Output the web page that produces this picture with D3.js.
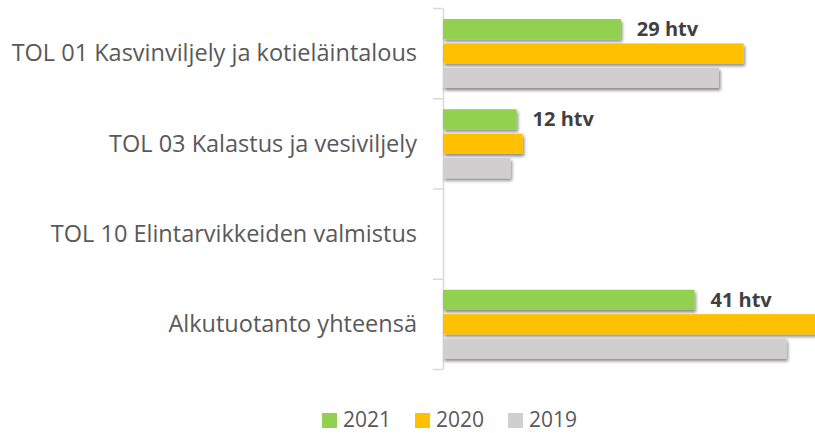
<html>
<head>
<meta charset="utf-8">
<style>
  body { margin: 0; background: #fff; }
  svg { display: block; }
</style>
</head>
<body>
<svg id="chart" width="815" height="433"></svg>
<script src="https://d3js.org/d3.v7.min.js"></script>
<script>
// data
var categories = ["TOL 01 Kasvinviljely ja kotieläintalous", "TOL 03 Kalastus ja vesiviljely",
                  "TOL 10 Elintarvikkeiden valmistus", "Alkutuotanto yhteensä"];
var seriesNames = ["2021", "2020", "2019"];
var values2021 = [29, 12, 0, 41];
var values2020 = [49, 13, 0, 62];
var values2019 = [45, 11, 0, 56];
var labels2021 = ["29 htv", "12 htv", "", "41 htv"];
var colors = ["#92D050", "#FFC000", "#D0CECE"];

var allValues = [values2021, values2020, values2019];

var svg = d3.select("#chart");

// shadow under bars
var defs = svg.append("defs");
defs.append("filter")
    .attr("id", "shadow")
    .attr("x", "-5%").attr("y", "-30%")
    .attr("width", "115%").attr("height", "190%")
  .append("feDropShadow")
    .attr("dx", 1.5).attr("dy", 2.5)
    .attr("stdDeviation", 1.5)
    .attr("flood-color", "#000")
    .attr("flood-opacity", 0.45);

var x = d3.scaleLinear().domain([0, 60]).range([443, 811]);
var y = d3.scaleBand().domain(categories).range([8, 369]);
var ySub = d3.scaleBand().domain(seriesNames).range([11, 80]).paddingInner(0.17);
var yLin = d3.scaleLinear().domain([0, categories.length]).range([8, 369]);

// axis with ticks between categories
var axis = svg.append("g")
    .attr("transform", "translate(443,0)")
    .call(d3.axisLeft(yLin).tickValues(d3.range(0, categories.length + 1)).tickSize(10).tickSizeOuter(0).tickFormat(""));
axis.select(".domain").attr("stroke", "#D9D9D9").attr("stroke-width", 1.5);
axis.selectAll(".tick line").attr("stroke", "#D9D9D9").attr("stroke-width", 1.5);

// category labels
svg.append("g").selectAll("text")
    .data(categories)
    .enter().append("text")
    .attr("x", 417)
    .attr("y", function(d) { return y(d) + y.bandwidth() / 2; })
    .attr("dy", "0.35em")
    .attr("text-anchor", "end")
    .attr("font-family", "Open Sans")
    .attr("font-size", 23.5)
    .attr("fill", "#595959")
    .text(function(d) { return d; });

// bars
seriesNames.forEach(function(name, s) {
    var rows = categories.map(function(c, i) { return { cat: c, v: allValues[s][i] }; })
        .filter(function(r) { return r.v > 0; });
    svg.append("g")
        .attr("filter", "url(#shadow)")
        .selectAll("rect")
        .data(rows)
        .enter().append("rect")
        .attr("x", x(0))
        .attr("y", function(r) { return y(r.cat) + ySub(name); })
        .attr("width", function(r) { return x(r.v) - x(0); })
        .attr("height", ySub.bandwidth())
        .attr("fill", colors[s]);
});

// value labels for 2021
svg.append("g").selectAll("text")
    .data(categories)
    .enter().append("text")
    .attr("x", function(d, i) { return x(values2021[i]) + 16; })
    .attr("y", function(d) { return y(d) + ySub("2021") + ySub.bandwidth() / 2; })
    .attr("dy", "0.35em")
    .attr("font-family", "Open Sans")
    .attr("font-weight", "bold")
    .attr("font-size", 20)
    .attr("fill", "#404040")
    .text(function(d, i) { return labels2021[i]; });

// legend
var legend = svg.append("g");
var lx = 322;
for (var k = 0; k < seriesNames.length; k++) {
    legend.append("rect")
        .attr("x", lx).attr("y", 413)
        .attr("width", 15).attr("height", 15)
        .attr("fill", colors[k]);
    var t = legend.append("text")
        .attr("x", lx + 21).attr("y", 427)
        .attr("font-family", "Open Sans")
        .attr("font-size", 21)
        .attr("fill", "#595959")
        .text(seriesNames[k]);
    lx += 21 + t.node().getComputedTextLength() + 24;
}
</script>
</body>
</html>
